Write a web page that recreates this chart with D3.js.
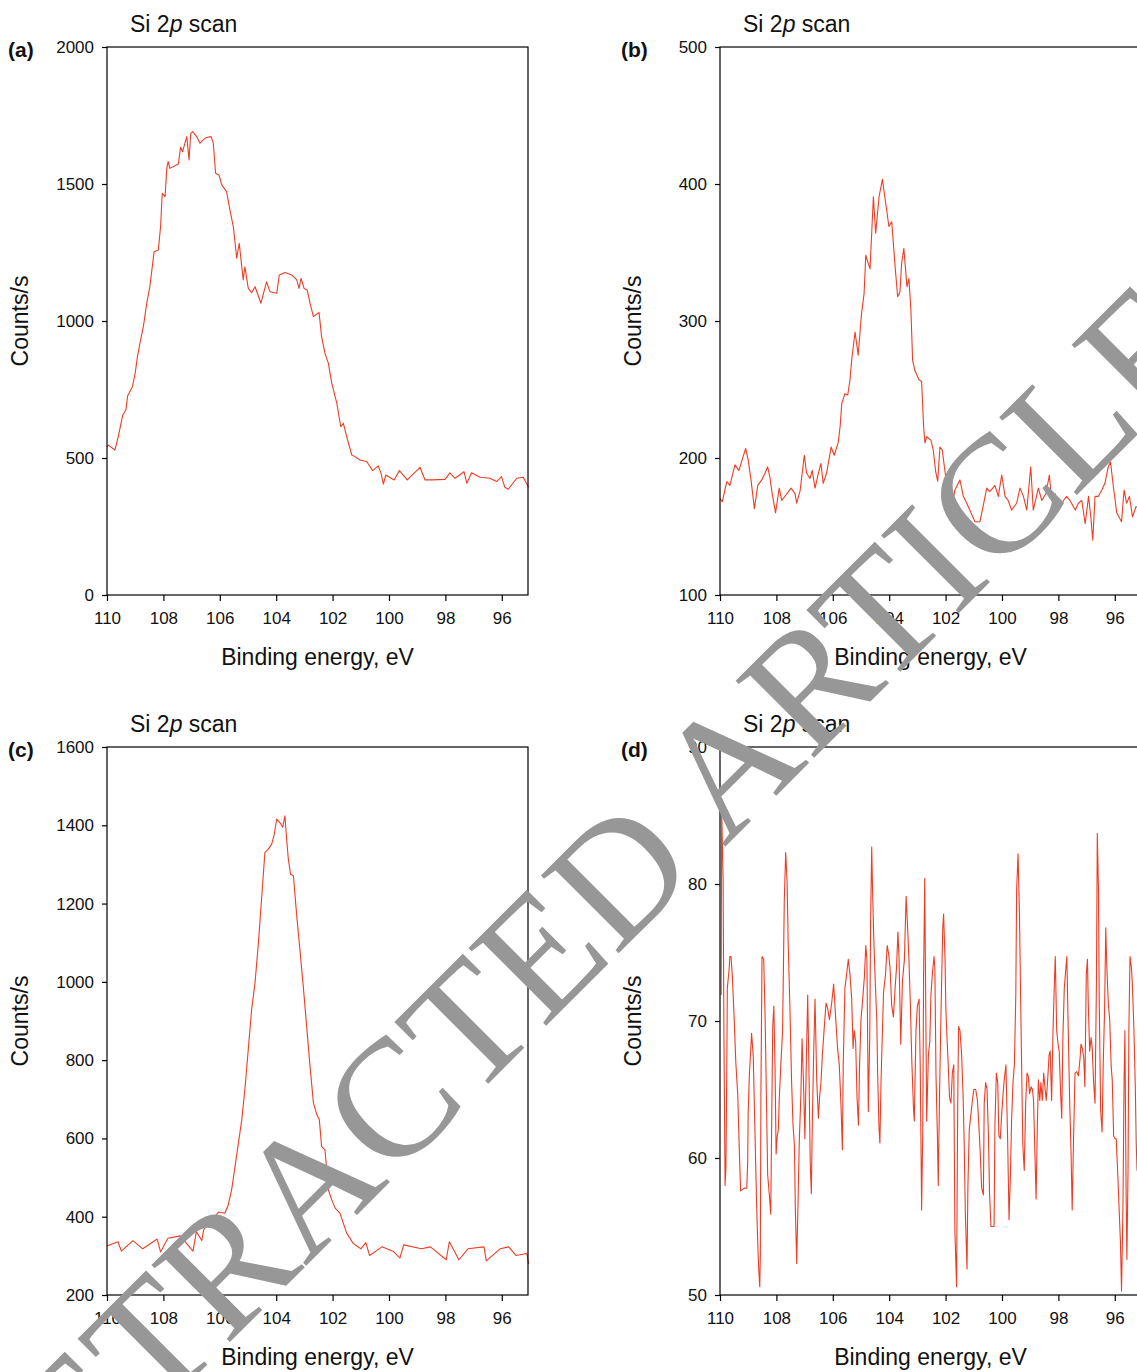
<!DOCTYPE html>
<html>
<head>
<meta charset="utf-8">
<script src="https://cdn.jsdelivr.net/npm/d3@7"></script>
<style>
body { margin: 0; background: #fff; }
svg { display: block; font-family: "Liberation Sans", Arial, sans-serif; }
</style>
</head>
<body>
<svg id="chart"></svg>
<script>
// Si 2p XPS scans, [binding energy eV, counts/s]
const scanA = [[110.00,540],[109.95,547],[109.72,529],[109.60,578],[109.44,657],[109.33,675],[109.27,726],[109.10,760],[109.00,810],[108.92,870],[108.83,920],[108.71,980],[108.59,1065],[108.48,1125],[108.33,1253],[108.18,1259],[108.10,1344],[108.04,1466],[107.94,1454],[107.88,1557],[107.83,1582],[107.77,1557],[107.47,1573],[107.39,1634],[107.32,1618],[107.17,1673],[107.09,1588],[107.03,1685],[106.96,1691],[106.82,1673],[106.70,1649],[106.59,1661],[106.47,1670],[106.31,1673],[106.23,1649],[106.15,1539],[106.03,1533],[105.93,1497],[105.76,1472],[105.64,1405],[105.52,1344],[105.40,1229],[105.31,1284],[105.17,1150],[105.11,1198],[104.99,1119],[104.87,1103],[104.75,1125],[104.54,1065],[104.42,1113],[104.34,1143],[104.22,1107],[103.98,1101],[103.89,1168],[103.69,1177],[103.45,1168],[103.27,1150],[103.19,1119],[103.12,1156],[103.01,1119],[102.90,1113],[102.80,1065],[102.68,1016],[102.48,1031],[102.39,943],[102.27,882],[102.15,846],[102.03,773],[101.91,724],[101.85,700],[101.71,614],[101.62,627],[101.50,578],[101.32,511],[101.21,505],[101.03,493],[100.79,487],[100.58,454],[100.38,471],[100.28,444],[100.20,405],[100.11,438],[99.82,420],[99.63,454],[99.35,420],[98.90,466],[98.72,420],[98.49,420],[98.01,422],[97.84,446],[97.66,426],[97.34,450],[97.24,408],[97.07,446],[96.77,430],[96.42,426],[96.18,414],[96.01,432],[95.89,393],[95.77,386],[95.47,426],[95.24,430],[95.05,393]];

const scanB = [[110.00,170.6],[109.92,168],[109.76,182.7],[109.65,180],[109.47,195],[109.33,191],[109.09,207],[109.00,198.5],[108.90,184],[108.78,163],[108.66,180],[108.52,184],[108.40,189],[108.31,193.6],[108.23,186],[108.15,174],[108.03,160],[107.90,178],[107.81,169],[107.48,178],[107.34,174],[107.28,167],[107.16,176],[107.01,202],[106.93,189],[106.81,185],[106.73,191],[106.63,178],[106.51,189],[106.42,196],[106.34,181.5],[106.22,189],[106.06,208],[105.95,202],[105.81,211],[105.74,223],[105.68,240],[105.57,247],[105.47,246],[105.39,257],[105.33,271.5],[105.21,292],[105.10,275],[104.98,305.6],[104.89,320],[104.83,348],[104.68,338],[104.56,390.7],[104.48,364],[104.36,390.7],[104.24,403.4],[104.09,381],[104.01,369],[103.91,372.5],[103.79,339.6],[103.70,317.7],[103.62,321],[103.56,342],[103.48,353],[103.37,325],[103.30,331],[103.23,308],[103.17,271.5],[103.09,264],[102.94,257],[102.85,256],[102.78,223],[102.73,211],[102.67,215.5],[102.52,213],[102.44,206],[102.35,190],[102.28,183],[102.20,208],[102.12,206],[102.02,190],[101.90,170],[101.78,164.5],[101.67,176.6],[101.49,184],[101.37,172],[101.25,167],[100.96,153.5],[100.78,153.5],[100.54,178],[100.43,175.4],[100.25,180],[100.13,172],[100.01,187.6],[99.89,172],[99.78,169],[99.66,162],[99.48,167],[99.36,178],[99.24,172],[99.12,162],[98.98,193.6],[98.89,162],[98.71,178],[98.59,169],[98.44,174],[98.32,187.6],[98.24,169],[98.12,174],[98.00,162],[97.82,169],[97.71,172],[97.59,169],[97.40,162],[97.29,167],[97.17,169],[97.05,152],[96.93,172],[96.85,157],[96.78,140],[96.70,172],[96.58,172],[96.46,176.6],[96.35,181.5],[96.23,193.6],[96.15,197],[96.05,179],[95.93,160],[95.76,153.5],[95.67,176.6],[95.58,167],[95.48,172],[95.37,157],[95.25,164.5],[95.07,162]];

const scanC = [[110.00,325],[109.61,336],[109.49,312],[109.08,339],[108.73,318],[108.22,343],[108.10,310],[107.84,345],[107.40,351],[106.95,312],[106.83,362],[106.64,339],[106.57,367],[106.20,399],[106.04,412],[105.82,409],[105.70,430],[105.58,469],[105.46,528],[105.34,588],[105.22,648],[105.11,725],[104.99,827],[104.87,930],[104.75,998],[104.63,1100],[104.51,1220],[104.40,1331],[104.28,1339],[104.16,1352],[104.08,1373],[103.98,1416],[103.87,1407],[103.77,1395],[103.69,1424],[103.63,1365],[103.57,1314],[103.49,1275],[103.39,1271],[103.27,1168],[103.16,1083],[103.04,989],[102.92,887],[102.80,784],[102.68,691],[102.56,661],[102.47,648],[102.39,580],[102.27,571],[102.15,469],[102.03,443],[101.91,422],[101.74,409],[101.50,358],[101.27,332],[101.00,318],[100.82,334],[100.69,301],[100.25,323],[99.86,312],[99.61,295],[99.48,328],[98.85,318],[98.53,323],[97.97,290],[97.86,336],[97.52,290],[97.20,318],[96.63,323],[96.55,287],[96.06,318],[95.75,323],[95.50,301],[95.11,306],[95.05,279]];

const scanD = [[109.96,71.9],[109.94,85.4],[109.89,80.4],[109.86,68.8],[109.82,58.0],[109.79,59.3],[109.76,66.2],[109.74,72.4],[109.68,73.7],[109.65,74.7],[109.61,74.7],[109.56,73.2],[109.50,70.3],[109.44,67.0],[109.37,64.6],[109.33,61.6],[109.27,57.6],[109.14,57.8],[109.05,57.8],[109.02,59.6],[109.00,63.3],[108.96,66.0],[108.91,67.9],[108.88,69.1],[108.82,67.4],[108.78,63.7],[108.74,60.1],[108.70,56.5],[108.66,53.7],[108.63,52.0],[108.59,50.6],[108.57,52.9],[108.55,64.4],[108.51,74.7],[108.45,74.5],[108.40,70.3],[108.35,63.9],[108.31,58.8],[108.25,57.3],[108.20,55.9],[108.17,62.1],[108.13,69.6],[108.09,71.1],[108.05,66.8],[108.01,60.3],[107.97,61.6],[107.93,62.1],[107.90,64.2],[107.85,66.5],[107.78,69.3],[107.72,78.8],[107.67,82.3],[107.62,80.1],[107.58,75.5],[107.52,70.9],[107.46,65.5],[107.41,62.4],[107.36,60.9],[107.33,56.5],[107.28,52.3],[107.23,57.0],[107.19,61.1],[107.13,64.7],[107.09,68.7],[107.04,65.6],[106.99,61.4],[106.94,66.8],[106.89,71.9],[106.84,65.7],[106.80,59.6],[106.76,57.4],[106.73,62.1],[106.68,67.5],[106.63,71.6],[106.57,65.7],[106.51,62.9],[106.47,64.4],[106.42,65.5],[106.37,67.5],[106.31,69.3],[106.24,71.3],[106.18,70.9],[106.12,70.1],[106.04,71.3],[105.97,72.7],[105.90,70.3],[105.83,68.0],[105.77,66.8],[105.71,63.9],[105.66,60.6],[105.63,66.8],[105.57,72.4],[105.51,73.4],[105.45,74.5],[105.39,73.4],[105.33,71.6],[105.28,68.0],[105.24,69.3],[105.19,68.5],[105.14,64.4],[105.09,62.4],[105.05,66.8],[105.00,70.1],[104.94,71.6],[104.88,73.2],[104.83,75.5],[104.79,74.5],[104.74,63.4],[104.69,68.8],[104.66,77.0],[104.62,82.7],[104.59,79.6],[104.55,76.3],[104.50,73.2],[104.44,70.1],[104.41,66.2],[104.36,62.1],[104.33,61.1],[104.29,65.5],[104.24,69.3],[104.20,72.1],[104.13,73.4],[104.07,75.5],[104.02,74.9],[103.97,73.9],[103.91,71.1],[103.85,70.3],[103.79,72.4],[103.74,73.9],[103.69,76.5],[103.65,74.5],[103.59,68.3],[103.53,72.9],[103.46,74.5],[103.40,79.1],[103.35,77.0],[103.30,74.5],[103.25,71.3],[103.20,67.2],[103.14,63.7],[103.11,62.7],[103.05,69.3],[103.00,71.1],[102.94,71.6],[102.90,66.8],[102.85,56.2],[102.81,61.9],[102.78,73.2],[102.74,80.4],
  [102.67,62.7],[102.61,67.5],[102.56,68.5],[102.52,71.9],[102.47,73.4],[102.41,74.7],[102.38,73.9],[102.34,66.0],[102.29,61.6],[102.26,58.0],[102.21,65.2],[102.16,70.9],[102.10,76.8],[102.07,77.8],[102.02,74.5],[101.99,70.9],[101.95,68.8],[101.90,66.5],[101.86,64.4],[101.81,64.0],[101.76,66.2],[101.71,66.8],[101.67,54.7],[101.61,50.6],[101.57,64.0],[101.54,69.6],[101.49,69.3],[101.43,67.5],[101.38,64.6],[101.34,61.1],[101.30,56.0],[101.24,51.9],[101.21,57.8],[101.16,62.1],[101.10,63.2],[101.05,64.2],[101.00,65.0],[100.93,65.0],[100.87,64.2],[100.82,62.4],[100.77,60.3],[100.72,57.8],[100.66,57.3],[100.63,64.0],[100.58,65.5],[100.53,65.0],[100.48,61.6],[100.44,57.3],[100.39,55.0],[100.28,55.0],[100.25,62.4],[100.20,66.2],[100.15,65.5],[100.11,61.6],[100.06,61.4],[100.01,63.2],[99.96,64.7],[99.92,65.7],[99.86,66.8],[99.80,61.4],[99.75,55.5],[99.70,58.8],[99.66,62.7],[99.61,65.5],[99.56,66.8],[99.51,71.9],[99.48,79.6],[99.43,82.2],[99.38,77.8],[99.34,71.9],[99.30,66.2],[99.26,60.9],[99.21,59.1],[99.16,64.0],[99.11,66.2],[99.07,66.0],[99.02,64.7],[98.97,65.2],[98.92,65.0],[98.88,64.2],[98.83,60.1],[98.79,57.0],[98.75,61.9],[98.71,65.7],[98.66,64.2],[98.62,65.5],[98.57,64.2],[98.52,66.2],[98.47,65.0],[98.43,64.2],[98.38,65.7],[98.33,67.5],[98.29,67.8],[98.24,64.2],[98.19,69.3],[98.14,72.9],[98.11,74.7],[98.06,69.3],[98.01,68.3],[97.97,67.8],[97.92,64.7],[97.88,62.9],[97.84,68.8],[97.79,72.4],[97.74,73.7],[97.70,74.7],[97.65,69.3],[97.60,64.2],[97.55,60.3],[97.51,56.2],[97.46,61.6],[97.41,66.2],[97.35,66.3],[97.29,66.0],[97.23,67.3],[97.20,68.3],[97.15,68.0],[97.10,67.3],[97.06,65.2],[97.01,73.4],[96.97,74.5],[96.94,71.3],[96.89,67.8],[96.84,68.8],[96.80,68.0],[96.75,65.5],[96.70,64.0],[96.65,72.9],[96.62,83.7],[96.58,79.8],[96.55,71.3],[96.50,63.4],[96.45,61.9],[96.41,66.8],[96.36,70.9],[96.32,76.8],[96.28,73.9],[96.23,71.3],[96.18,70.1],[96.13,66.8],[96.09,65.7],[96.04,61.6],[95.99,61.4],[95.95,61.4],[95.90,59.1],[95.85,56.5],[95.80,53.9],[95.76,50.3],[95.71,56.5],[95.67,65.7],[95.64,69.3],[95.60,57.8],[95.57,52.6],[95.53,59.1],[95.50,69.3],[95.46,74.7],[95.41,73.9],[95.37,72.4],[95.32,69.3],[95.27,65.0],[95.24,61.1],[95.21,59.1],[95.07,60]];

const energyTicks = [110, 108, 106, 104, 102, 100, 98, 96];
const countTicksA = [0, 500, 1000, 1500, 2000];
const countTicksB = [100, 200, 300, 400, 500];
const countTicksC = [200, 400, 600, 800, 1000, 1200, 1400, 1600];
const countTicksD = [50, 60, 70, 80, 90];
const panelLabels = ["(a)", "(b)", "(c)", "(d)"];
const watermark = "RETRACTED ARTICLE";

const WIDTH = 1137, HEIGHT = 1372;
const PLOT_W = 421, PLOT_H = 548;
const LINE_COLOR = "#ee3d25";
const ENERGY_DOMAIN = [110, 95.07];

const svg = d3.select("#chart")
    .attr("width", WIDTH)
    .attr("height", HEIGHT);

svg.append("rect")
    .attr("width", WIDTH)
    .attr("height", HEIGHT)
    .attr("fill", "#fff");

const panels = [
    { data: scanA, ticks: countTicksA, label: panelLabels[0], left: 107, top: 47 },
    { data: scanB, ticks: countTicksB, label: panelLabels[1], left: 720, top: 47 },
    { data: scanC, ticks: countTicksC, label: panelLabels[2], left: 107, top: 747 },
    { data: scanD, ticks: countTicksD, label: panelLabels[3], left: 720, top: 747 }
];

panels.forEach(p => {
    const g = svg.append("g")
        .attr("transform", `translate(${p.left},${p.top})`);

    const x = d3.scaleLinear().domain(ENERGY_DOMAIN).range([0, PLOT_W]);
    const y = d3.scaleLinear()
        .domain([p.ticks[0], p.ticks[p.ticks.length - 1]])
        .range([PLOT_H, 0]);

    // spectrum
    g.append("path")
        .datum(p.data)
        .attr("fill", "none")
        .attr("stroke", LINE_COLOR)
        .attr("stroke-width", 1.1)
        .attr("stroke-linejoin", "round")
        .attr("d", d3.line()
            .x(d => x(d[0]))
            .y(d => y(d[1])));

    // frame
    g.append("rect")
        .attr("width", PLOT_W)
        .attr("height", PLOT_H)
        .attr("fill", "none")
        .attr("stroke", "#000")
        .attr("stroke-width", 1.2);

    const xAxis = g.append("g")
        .attr("transform", `translate(0,${PLOT_H})`)
        .call(d3.axisBottom(x)
            .tickValues(energyTicks)
            .tickSize(6)
            .tickSizeOuter(0)
            .tickPadding(11)
            .tickFormat(d3.format("d")));

    const yAxis = g.append("g")
        .call(d3.axisLeft(y)
            .tickValues(p.ticks)
            .tickSize(5)
            .tickSizeOuter(0)
            .tickPadding(8)
            .tickFormat(d3.format("d")));

    [xAxis, yAxis].forEach(ax => {
        ax.select(".domain").remove();
        ax.attr("font-family", null).attr("font-size", null);
        ax.selectAll("line").attr("stroke", "#000").attr("stroke-width", 1.2);
        ax.selectAll("text")
            .attr("fill", "#111")
            .style("font-size", "17px");
    });

    // titles
    const title = g.append("text")
        .attr("x", 23)
        .attr("y", -15)
        .style("font-size", "23px")
        .attr("fill", "#111");
    title.append("tspan").text("Si 2");
    title.append("tspan").style("font-style", "italic").text("p");
    title.append("tspan").text(" scan");

    g.append("text")
        .attr("x", -99)
        .attr("y", 10)
        .style("font-size", "21px")
        .style("font-weight", "bold")
        .attr("fill", "#111")
        .text(p.label);

    g.append("text")
        .attr("x", PLOT_W / 2)
        .attr("y", PLOT_H + 70)
        .attr("text-anchor", "middle")
        .style("font-size", "23px")
        .attr("fill", "#111")
        .text("Binding energy, eV");

    g.append("text")
        .attr("transform", `translate(-79,${PLOT_H / 2}) rotate(-90)`)
        .attr("text-anchor", "middle")
        .style("font-size", "23px")
        .attr("fill", "#111")
        .text("Counts/s");
});

// retraction stamp over everything
svg.append("text")
    .attr("transform", "translate(610,962) rotate(-45)")
    .attr("text-anchor", "middle")
    .style("font-family", "'Liberation Serif', 'Times New Roman', serif")
    .style("font-size", "168px")
    .attr("fill", "#979797")
    .text(watermark);
</script>
</body>
</html>
